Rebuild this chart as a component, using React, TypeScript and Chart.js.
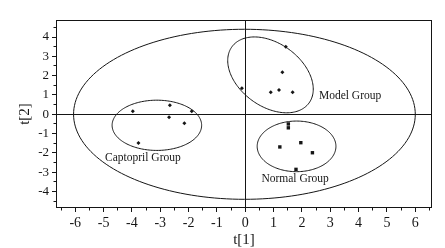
import React, { useEffect, useRef } from "react";
import { Chart, registerables } from "chart.js";

Chart.register(...registerables);

// ---- data ----
const captoprilX = [-3.97, -2.66, -1.89, -2.69, -2.15, -3.77];
const captoprilY = [0.16, 0.47, 0.16, -0.15, -0.47, -1.48];
const modelX = [1.43, 1.31, -0.12, 0.9, 1.19, 1.67];
const modelY = [3.5, 2.18, 1.35, 1.14, 1.26, 1.14];
const normalX = [1.52, 1.52, 1.22, 1.96, 2.37, 1.79];
const normalY = [-0.5, -0.7, -1.69, -1.47, -1.99, -2.85];

const xTickValues = [-6, -5, -4, -3, -2, -1, 0, 1, 2, 3, 4, 5, 6];
const yTickValues = [-4, -3, -2, -1, 0, 1, 2, 3, 4];
const xRange = [-6.68, 6.59];
const yRange = [-4.85, 4.88];
const axisTitles = ["t[1]", "t[2]"];

// confidence ellipses: centre + two conjugate semi-axis vectors (t[1], t[2] units)
// order: Hotelling T2 (overall), Captopril, Model, Normal
const ellipseCX = [-0.03, -3.12, 0.89, 1.81];
const ellipseCY = [0, -0.57, 2.04, -1.66];
const ellipseUX = [6.03, 1.58, 1.36, 1.39];
const ellipseUY = [0, 0, -1.456, 0];
const ellipseVX = [0, 0, -0.655, 0];
const ellipseVY = [4.4, 1.3, -1.317, 1.31];

const groupLabels = ["Captopril Group", "Model Group", "Normal Group"];
const groupLabelX = [-4.95, 2.6, 0.57];
const groupLabelY = [-2.42, 0.79, -3.5];

const INK = "#151515";
const SERIF = "'Liberation Serif', 'DejaVu Serif', serif";

const decorPlugin = {
  id: "decor",
  beforeDatasetsDraw(chart: any) {
    const { ctx, chartArea: a, scales } = chart;
    const xs = scales.x;
    const ys = scales.y;
    ctx.save();
    ctx.strokeStyle = INK;
    ctx.lineWidth = 1;
    // zero lines
    const px0 = Math.floor(xs.getPixelForValue(0)) + 0.5;
    const py0 = Math.floor(ys.getPixelForValue(0)) + 0.5;
    ctx.beginPath();
    ctx.moveTo(a.left, py0);
    ctx.lineTo(a.right, py0);
    ctx.moveTo(px0, a.top);
    ctx.lineTo(px0, a.bottom);
    ctx.stroke();
    // ellipses
    const steps = 180;
    for (let i = 0; i < ellipseCX.length; i++) {
      ctx.beginPath();
      for (let k = 0; k <= steps; k++) {
        const t = (k / steps) * Math.PI * 2;
        const c = Math.cos(t);
        const s = Math.sin(t);
        const vx = ellipseCX[i] + ellipseUX[i] * c + ellipseVX[i] * s;
        const vy = ellipseCY[i] + ellipseUY[i] * c + ellipseVY[i] * s;
        const px = xs.getPixelForValue(vx);
        const py = ys.getPixelForValue(vy);
        if (k === 0) ctx.moveTo(px, py);
        else ctx.lineTo(px, py);
      }
      ctx.closePath();
      ctx.stroke();
    }
    ctx.restore();
  },
  afterDraw(chart: any) {
    const { ctx, chartArea: a, scales } = chart;
    const xs = scales.x;
    const ys = scales.y;
    ctx.save();
    ctx.strokeStyle = INK;
    ctx.lineWidth = 1;
    // frame
    ctx.strokeRect(a.left + 0.5, a.top + 0.5, a.right - a.left - 1, a.bottom - a.top - 1);
    // ticks
    ctx.beginPath();
    xTickValues.forEach((v) => {
      [v, v + 0.5].forEach((tv, j) => {
        if (tv < xRange[0] || tv > xRange[1]) return;
        const p = Math.floor(xs.getPixelForValue(tv)) + 0.5;
        ctx.moveTo(p, a.bottom);
        ctx.lineTo(p, a.bottom + (j === 0 ? 4 : 2.5));
      });
    });
    {
      const tv = xTickValues[0] - 0.5;
      if (tv >= xRange[0]) {
        const p = Math.floor(xs.getPixelForValue(tv)) + 0.5;
        ctx.moveTo(p, a.bottom);
        ctx.lineTo(p, a.bottom + 2.5);
      }
    }
    yTickValues.forEach((v) => {
      [v, v + 0.5].forEach((tv, j) => {
        if (tv < yRange[0] || tv > yRange[1]) return;
        const p = Math.floor(ys.getPixelForValue(tv)) + 0.5;
        ctx.moveTo(a.left, p);
        ctx.lineTo(a.left - (j === 0 ? 4 : 2.5), p);
      });
    });
    {
      const tv = yTickValues[0] - 0.5;
      if (tv >= yRange[0]) {
        const p = Math.floor(ys.getPixelForValue(tv)) + 0.5;
        ctx.moveTo(a.left, p);
        ctx.lineTo(a.left - 2.5, p);
      }
    }
    ctx.stroke();

    // group labels
    ctx.fillStyle = INK;
    ctx.font = `11.5px ${SERIF}`;
    ctx.textAlign = "left";
    ctx.textBaseline = "alphabetic";
    groupLabels.forEach((lab, i) => {
      ctx.fillText(lab, xs.getPixelForValue(groupLabelX[i]), ys.getPixelForValue(groupLabelY[i]));
    });

    // axis titles
    ctx.font = `15px ${SERIF}`;
    ctx.textAlign = "center";
    ctx.textBaseline = "middle";
    ctx.fillText(axisTitles[0], (a.left + a.right) / 2, 240);
    ctx.translate(25, (a.top + a.bottom) / 2);
    ctx.rotate(-Math.PI / 2);
    ctx.fillText(axisTitles[1], 0, 0);
    ctx.restore();
  },
};

export default function App() {
  const ref = useRef<HTMLCanvasElement | null>(null);

  useEffect(() => {
    if (!ref.current) return;
    const mk = (xs: number[], ys: number[]) => xs.map((v, i) => ({ x: v, y: ys[i] }));
    const chart = new Chart(ref.current, {
      type: "scatter",
      data: {
        datasets: [
          {
            label: "Captopril Group",
            data: mk(captoprilX, captoprilY),
            pointStyle: "rectRot",
            pointRadius: 2,
            pointBackgroundColor: INK,
            pointBorderWidth: 0,
          },
          {
            label: "Model Group",
            data: mk(modelX, modelY),
            pointStyle: "rectRot",
            pointRadius: 2,
            pointBackgroundColor: INK,
            pointBorderWidth: 0,
          },
          {
            label: "Normal Group",
            data: mk(normalX, normalY),
            pointStyle: "rect",
            pointRadius: 2.4,
            pointBackgroundColor: INK,
            pointBorderWidth: 0,
          },
        ],
      },
      options: {
        animation: false,
        responsive: false,
        layout: { padding: { left: 0, top: 20, right: 13, bottom: 0 } },
        plugins: { legend: { display: false }, tooltip: { enabled: false } },
        scales: {
          x: {
            type: "linear",
            min: xRange[0],
            max: xRange[1],
            afterBuildTicks: (s: any) => {
              s.ticks = xTickValues.map((v) => ({ value: v }));
            },
            afterFit: (s: any) => {
              s.height = 40;
            },
            grid: { drawOnChartArea: false, drawTicks: true, tickLength: 5, tickColor: "rgba(0,0,0,0)" },
            border: { display: false },
            ticks: {
              autoSkip: false,
              maxRotation: 0,
              padding: 2,
              color: INK,
              font: { family: SERIF, size: 14 },
              callback: (v: any) => String(v),
            },
          },
          y: {
            type: "linear",
            min: yRange[0],
            max: yRange[1],
            afterBuildTicks: (s: any) => {
              s.ticks = yTickValues.map((v) => ({ value: v }));
            },
            afterFit: (s: any) => {
              s.width = 56;
            },
            grid: { drawOnChartArea: false, drawTicks: true, tickLength: 5, tickColor: "rgba(0,0,0,0)" },
            border: { display: false },
            ticks: {
              autoSkip: false,
              padding: 2,
              color: INK,
              font: { family: SERIF, size: 13 },
              callback: (v: any) => String(v),
            },
          },
        },
      },
      plugins: [decorPlugin],
    } as any);
    return () => chart.destroy();
  }, []);

  return (
    <div style={{ position: "absolute", left: 0, top: 0, width: 445, height: 248, background: "#fff" }}>
      <canvas ref={ref} width={445} height={248} style={{ display: "block" }} />
    </div>
  );
}
